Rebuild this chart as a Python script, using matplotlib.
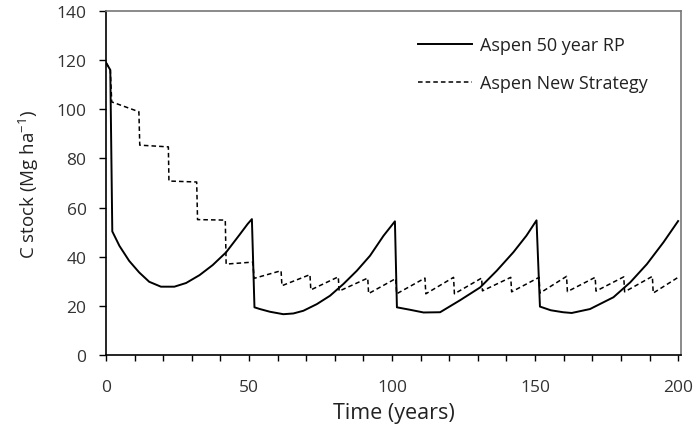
import matplotlib
matplotlib.use("Agg")
import matplotlib.pyplot as plt
from matplotlib.ticker import MultipleLocator

plt.rcParams['font.family'] = ['Open Sans', 'DejaVu Sans']
plt.rcParams['mathtext.fontset'] = 'custom'
plt.rcParams['mathtext.rm'] = 'Open Sans'
plt.rcParams['mathtext.it'] = 'Open Sans:italic'

# Aspen 50 year rotation period (solid)
rp_years = [0, 1.5, 2.2, 4.7, 8.1, 11.6, 15.1, 19.2, 23.9, 28, 32.7, 37.3, 42,
            46.6, 49.5, 51, 51.9, 53.8, 57.3, 62, 65.5, 69, 73.7, 78.3, 83, 87.7,
            92.3, 97, 101, 101.7, 106.3, 111, 116.8, 123.8, 130.8, 136.6, 142.4,
            147, 150.5, 151.7, 155.5, 159.8, 162.8, 169.2, 177.4, 183.3, 189.1,
            194.9, 200]
rp_stock = [119, 116, 50.3, 44.4, 38.3, 33.6, 29.8, 27.8, 27.8, 29.3, 32.5, 36.6,
            41.8, 48.8, 53.3, 55.3, 19.4, 18.7, 17.6, 16.6, 16.9, 18, 20.7, 24.1,
            28.9, 34.3, 40.4, 48.5, 54.4, 19.4, 18.4, 17.3, 17.4, 22.3, 27.5, 34.3,
            41.8, 48.6, 54.8, 19.7, 18.2, 17.4, 17.1, 18.7, 23.5, 29.6, 37, 45.9,
            54.5]

# Aspen new strategy (dashed)
ns_years = [0, 1.5, 2, 11.5, 11.8, 21.8, 22, 31.7, 32, 41.7, 42, 51.3, 51.8, 61.2,
            61.5, 71.3, 71.6, 81.2, 81.5, 91.5, 91.8, 101.3, 101.6, 111.5, 111.8,
            121.5, 121.8, 131.3, 131.6, 141.5, 141.8, 151.4, 151.7, 161, 161.3,
            171, 171.3, 181, 181.3, 191, 191.3, 200]
ns_stock = [119, 116, 103, 99, 85.4, 84.7, 70.8, 70.4, 55.1, 54.9, 37, 37.8, 31.2,
            34.3, 28.2, 32.7, 26.5, 31.8, 26, 31.3, 25, 31.1, 24.9, 31.3, 24.9,
            31.6, 24.9, 31.3, 26.1, 31.6, 25.7, 31.6, 25.2, 32, 25.8, 31.6, 26,
            31.8, 25.7, 32, 25.2, 31.6]

fig = plt.figure(figsize=(6.96, 4.27), dpi=100)
ax = fig.add_axes([0.1523, 0.1663, 0.8261, 0.8056])

ax.plot(rp_years, rp_stock, color='black', lw=1.4, label='Aspen 50 year RP')
ax.plot(ns_years, ns_stock, color='black', lw=1.1, linestyle=(0, (3, 2)),
        label='Aspen New Strategy')

ax.set_xlim(0, 201)
ax.set_ylim(0, 140)
ax.xaxis.set_major_locator(MultipleLocator(50))
ax.xaxis.set_minor_locator(MultipleLocator(10))
ax.yaxis.set_major_locator(MultipleLocator(20))
ax.tick_params(axis='both', which='both', direction='out', top=False, right=False,
               colors='black', labelcolor='#333333', labelsize=12.5)
ax.tick_params(axis='x', which='both', length=4, width=1, pad=13)
ax.tick_params(axis='y', length=5, width=1, pad=9)

for side in ['left', 'bottom']:
    ax.spines[side].set_color('black')
    ax.spines[side].set_linewidth(1.2)
for side in ['top', 'right']:
    ax.spines[side].set_color('#777777')
    ax.spines[side].set_linewidth(1.2)

ax.set_xlabel('Time (years)', fontsize=15.5, color='#222222', labelpad=5.5)
ax.set_ylabel('C stock (Mg ha$^{-1}$)', fontsize=13.5, color='#222222', labelpad=11)

ax.legend(loc='upper left', frameon=False, fontsize=13, handlelength=3.0,
          handletextpad=0.45, labelspacing=1.1, borderpad=0, borderaxespad=0,
          bbox_to_anchor=(0.5426, 0.926), labelcolor='#222222')

fig.savefig('out.png', dpi=100)
